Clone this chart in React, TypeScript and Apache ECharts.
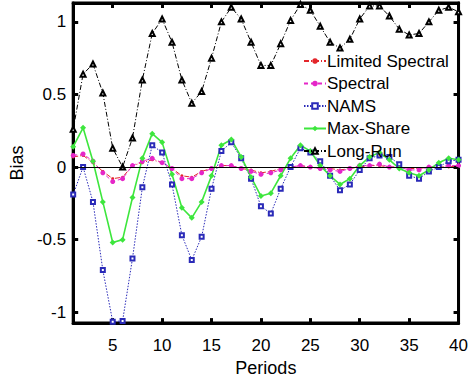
import React, { useEffect, useRef } from "react";
import * as echarts from "echarts";

const periods = Array.from({ length: 40 }, (_, i) => i + 1);
const xTicks = [5, 10, 15, 20, 25, 30, 35, 40];
const yTicks = [-1, -0.5, 0, 0.5, 1];

const limitedSpectral = [0.07,0.08,0.03,-0.03,-0.08,-0.07,0.01,0.03,0.05,0.03,-0.01,-0.06,-0.07,-0.03,-0.01,0.01,0.01,-0.01,-0.02,-0.04,-0.03,-0.01,0.0,0.01,0.0,-0.01,-0.01,-0.02,-0.01,0.0,0.01,0.01,0.0,0.0,-0.01,-0.01,0.0,0.0,0.0,0.01];
const spectral = [0.08,0.09,0.04,-0.04,-0.1,-0.08,0.01,0.04,0.06,0.03,-0.01,-0.08,-0.08,-0.04,-0.01,0.01,0.01,-0.01,-0.03,-0.05,-0.04,-0.02,0.0,0.01,0.0,-0.01,-0.02,-0.03,-0.01,0.01,0.01,0.02,0.0,0.0,-0.02,-0.02,0.0,0.0,0.01,0.01];
const nams = [-0.19,0.0,-0.24,-0.71,-1.065,-1.06,-0.63,-0.14,0.15,0.1,-0.12,-0.47,-0.64,-0.48,-0.15,0.11,0.17,0.06,-0.08,-0.27,-0.32,-0.15,0.0,0.13,0.1,0.04,-0.06,-0.16,-0.12,-0.02,0.06,0.08,0.07,0.02,-0.06,-0.08,-0.03,0.0,0.04,0.05];
const maxShare = [0.14,0.27,0.04,-0.24,-0.52,-0.5,-0.21,0.06,0.23,0.17,-0.05,-0.28,-0.35,-0.24,-0.06,0.15,0.19,0.07,-0.07,-0.2,-0.18,-0.06,0.06,0.15,0.11,0.01,-0.06,-0.12,-0.08,0.01,0.07,0.1,0.05,-0.01,-0.04,-0.06,-0.02,0.03,0.06,0.05];
const longRun = [0.26,0.64,0.71,0.51,0.13,0.0,0.2,0.6,0.92,1.02,0.86,0.6,0.44,0.52,0.75,1.0,1.1,1.02,0.86,0.7,0.7,0.85,1.01,1.12,1.08,0.97,0.86,0.82,0.88,1.02,1.11,1.11,1.04,0.95,0.91,0.92,1.0,1.08,1.1,1.07];

const FONT = "'Liberation Sans', Arial, sans-serif";

const pairs = (vals: number[]) => periods.map((p, i) => [p, vals[i]]);

export default function App() {
  const ref = useRef<HTMLDivElement>(null);
  useEffect(() => {
    if (!ref.current) return;
    const chart = echarts.init(ref.current, null, { renderer: "svg" });
    const tickStyle = { inside: true, length: 5, lineStyle: { color: "#000", width: 3 } };
    chart.setOption({
      animation: false,
      backgroundColor: "#fff",
      textStyle: { fontFamily: FONT },
      grid: {
        left: 57, right: 9, top: 3, bottom: 50,
        show: true, borderColor: "#000", borderWidth: 3, backgroundColor: "transparent",
      },
      legend: {
        orient: "vertical",
        left: 303,
        top: 52,
        itemWidth: 22,
        itemHeight: 7,
        itemGap: 4.5,
        padding: 0,
        textStyle: { fontSize: 17, lineHeight: 18, color: "#000", fontFamily: FONT, padding: [0, 0, 0, -4] },
        data: ["Limited Spectral", "Spectral", "NAMS", "Max-Share", "Long-Run"],
      },
      xAxis: [
        {
          type: "value", min: 1, max: 40,
          name: "Periods", nameLocation: "middle", nameGap: 34,
          nameTextStyle: { fontSize: 18, color: "#000", fontFamily: FONT },
          axisLine: { onZero: false, lineStyle: { color: "#000", width: 3 } },
          axisTick: { ...tickStyle, customValues: xTicks },
          axisLabel: { customValues: xTicks, fontSize: 17, color: "#000", margin: 14, fontFamily: FONT },
          splitLine: { show: false },
        },
        {
          type: "value", min: 1, max: 40, position: "top",
          axisLine: { onZero: false, lineStyle: { color: "#000", width: 3 } },
          axisTick: { ...tickStyle, customValues: xTicks },
          axisLabel: { show: false },
          splitLine: { show: false },
        },
      ],
      yAxis: [
        {
          type: "value", min: -1.075, max: 1.13,
          name: "Bias", nameLocation: "middle", nameGap: 36,
          nameTextStyle: { fontSize: 18, color: "#000", fontFamily: FONT },
          axisLine: { onZero: false, lineStyle: { color: "#000", width: 3 } },
          axisTick: { ...tickStyle, customValues: yTicks },
          axisLabel: { customValues: yTicks, fontSize: 17, color: "#000", margin: 7, fontFamily: FONT },
          splitLine: { show: false },
        },
        {
          type: "value", min: -1.075, max: 1.13, position: "right",
          axisLine: { onZero: false, lineStyle: { color: "#000", width: 3 } },
          axisTick: { ...tickStyle, customValues: yTicks },
          axisLabel: { show: false },
          splitLine: { show: false },
        },
      ],
      series: [
        {
          name: "Limited Spectral", type: "line", data: pairs(limitedSpectral),
          symbol: "circle", symbolSize: 3,
          lineStyle: { color: "#e3262b", width: 1, type: [5, 2, 1, 2] },
          itemStyle: { color: "#e3262b" },
          markLine: {
            silent: true, symbol: "none", label: { show: false },
            lineStyle: { color: "#000", width: 1, type: "solid" },
            data: [{ yAxis: 0 }],
          },
        },
        {
          name: "Spectral", type: "line", data: pairs(spectral),
          symbol: "circle", symbolSize: 5,
          lineStyle: { color: "#e526c8", width: 1, type: [4, 3] },
          itemStyle: { color: "#e526c8" },
        },
        {
          name: "NAMS", type: "line", data: pairs(nams),
          symbol: "emptyRect", symbolSize: 4,
          lineStyle: { color: "#2a2ab8", width: 1, type: [1.5, 1.5] },
          itemStyle: { color: "#2a2ab8", borderWidth: 1.2 },
        },
        {
          name: "Max-Share", type: "line", data: pairs(maxShare),
          symbol: "diamond", symbolSize: 6,
          lineStyle: { color: "#3de63d", width: 1.6, type: "solid" },
          itemStyle: { color: "#3de63d" },
        },
        {
          name: "Long-Run", type: "line", data: pairs(longRun),
          symbol: "emptyTriangle", symbolSize: 5,
          lineStyle: { color: "#000", width: 1, type: [5, 2, 1, 2] },
          itemStyle: { color: "#000", borderWidth: 1.2 },
        },
      ],
    });
    return () => chart.dispose();
  }, []);
  return <div ref={ref} style={{ width: 471, height: 382, position: "absolute", left: 0, top: 0 }} />;
}
